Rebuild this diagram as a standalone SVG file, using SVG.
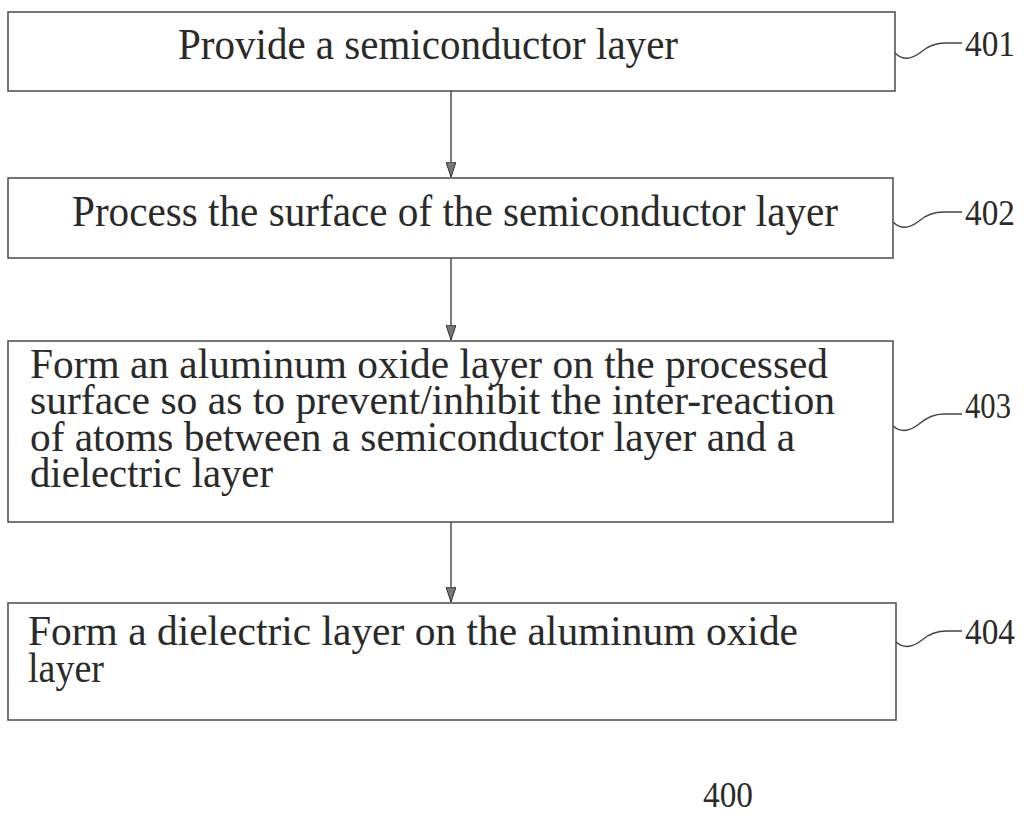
<svg xmlns="http://www.w3.org/2000/svg" width="1024" height="819" viewBox="0 0 1024 819">
<defs>
<style>
.box{fill:#fff;stroke:#555;stroke-width:1.6}
.t{font-family:"Liberation Serif",serif;font-size:44px;fill:#2a2a2a}
.t2{font-family:"Liberation Serif",serif;font-size:42px;fill:#2a2a2a}
.lbl{font-family:"Liberation Serif",serif;font-size:36px;fill:#2a2a2a}
.conn{stroke:#444;stroke-width:1.4;fill:none}
.lead{stroke:#444;stroke-width:1.4;fill:none}
</style>
<marker id="arr" viewBox="0 0 10 15" refX="5" refY="15" markerWidth="10" markerHeight="15" markerUnits="userSpaceOnUse">
<path d="M0,0 L10,0 L5,15 Z" fill="#777" stroke="#333" stroke-width="1"/>
</marker>
</defs>
<rect width="1024" height="819" fill="#fff"/>
<g id="n401">
<rect class="box" x="8" y="12" width="887" height="79"/>
<text class="t" x="178" y="59" textLength="500" lengthAdjust="spacingAndGlyphs">Provide a semiconductor layer</text>
<path class="lead" d="M895,53 C902,60 911,60 921,52 C929,45 936,43 946,43 L962,43"/>
<text class="lbl" x="965" y="56" textLength="50" lengthAdjust="spacingAndGlyphs">401</text>
</g>
<g id="n402">
<rect class="box" x="8" y="178" width="885" height="80"/>
<text class="t" x="72" y="226" textLength="766" lengthAdjust="spacingAndGlyphs">Process the surface of the semiconductor layer</text>
<path class="lead" d="M893,222 C900,229 909,229 919,221 C927,214 934,212 944,212 L962,212"/>
<text class="lbl" x="965" y="225" textLength="50" lengthAdjust="spacingAndGlyphs">402</text>
</g>
<g id="n403">
<rect class="box" x="8" y="341" width="885" height="181"/>
<text class="t2" x="30" y="378" textLength="798" lengthAdjust="spacingAndGlyphs">Form an aluminum oxide layer on the processed</text>
<text class="t2" x="30" y="414" textLength="805" lengthAdjust="spacingAndGlyphs">surface so as to prevent/inhibit the inter-reaction</text>
<text class="t2" x="30" y="451" textLength="765" lengthAdjust="spacingAndGlyphs">of atoms between a semiconductor layer and a</text>
<text class="t2" x="30" y="487" textLength="243" lengthAdjust="spacingAndGlyphs">dielectric layer</text>
<path class="lead" d="M893,426 C900,432 909,432 919,424 C927,417 934,414 944,414 L962,414"/>
<text class="lbl" x="965" y="418" textLength="46" lengthAdjust="spacingAndGlyphs">403</text>
</g>
<g id="n404">
<rect class="box" x="8" y="603" width="888" height="117"/>
<text class="t2" x="28" y="645" textLength="770" lengthAdjust="spacingAndGlyphs">Form a dielectric layer on the aluminum oxide</text>
<text class="t2" x="28" y="682" textLength="76" lengthAdjust="spacingAndGlyphs">layer</text>
<path class="lead" d="M896,642 C903,648 912,648 922,640 C930,633 937,631 947,631 L962,631"/>
<text class="lbl" x="965" y="644" textLength="50" lengthAdjust="spacingAndGlyphs">404</text>
</g>
<g id="fig">
<text class="lbl" x="703" y="807" textLength="50" lengthAdjust="spacingAndGlyphs">400</text>
</g>
<g id="connectors">
<line class="conn" x1="451" y1="91" x2="451" y2="177" marker-end="url(#arr)"/>
<line class="conn" x1="451" y1="258" x2="451" y2="340" marker-end="url(#arr)"/>
<line class="conn" x1="451" y1="522" x2="451" y2="602" marker-end="url(#arr)"/>
</g>
</svg>
